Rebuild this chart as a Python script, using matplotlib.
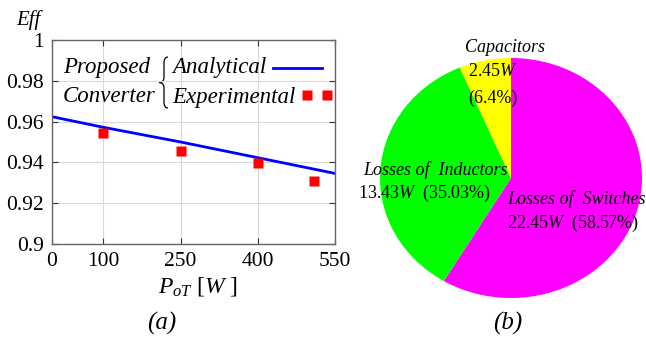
import numpy as np
import matplotlib
matplotlib.use("Agg")
import matplotlib.pyplot as plt
from matplotlib.path import Path
from matplotlib.patches import PathPatch

plt.rcParams['font.family'] = ['Liberation Serif', 'DejaVu Serif']
plt.rcParams['mathtext.fontset'] = 'custom'
plt.rcParams['mathtext.rm'] = 'Liberation Serif'
plt.rcParams['mathtext.it'] = 'Liberation Serif:italic'

# efficiency curve (a)
p_analytical = [0, 100, 250, 400, 550]
eff_analytical = [0.9624, 0.9572, 0.9500, 0.9423, 0.9346]
p_experimental = [100, 250, 400, 510]
eff_experimental = [0.9546, 0.9454, 0.9399, 0.9310]
x_ticks = [0, 100, 250, 400, 550]
y_ticks = [0.9, 0.92, 0.94, 0.96, 0.98, 1.0]
y_ticklabels = ['0.9', '0.92', '0.94', '0.96', '0.98', '1']

# loss breakdown (b)
loss_names = ['Switches', 'Inductors', 'Capacitors']
loss_watts = [22.45, 13.43, 2.45]
loss_pct = [58.57, 35.03, 6.4]
loss_colors = ['#ff00ff', '#00ff00', '#ffff00']

fig = plt.figure(figsize=(6.46, 3.43), dpi=100)

W, H = 646, 343
AW, AH = 283, 204
ax = fig.add_axes([52 / W, (H - 244) / H, AW / W, AH / H])
ax.plot(p_analytical, eff_analytical, color='#0000ff', lw=2)
ax.plot(p_experimental, eff_experimental, 's', color='#ff0000', ms=7, mec='none')
ax.set_xlim(0, 550)
ax.set_ylim(0.9, 1.0)
ax.set_xticks(x_ticks)
ax.set_yticks(y_ticks)
ax.set_yticklabels(y_ticklabels)
ax.grid(True, color='#d8d8d8', lw=0.8)
ax.tick_params(direction='in', top=True, right=True, labelsize=15.5, length=4,
               color='#333333', pad=6)
for s in ax.spines.values():
    s.set_color('#666666')
    s.set_linewidth(1.0)

# legend drawn by hand like the original
def px(x, y):
    return (x / AW, 1 - y / AH)

tkw = dict(fontsize=16.5, style='italic', transform=ax.transAxes, va='center')
ax.text(*px(11, 27), 'Proposed', **tkw)
ax.text(*px(11, 57), 'Converter', **tkw)
ax.text(*px(120, 27), 'Analytical', **tkw)
ax.text(*px(120, 57), 'Experimental', **tkw)

# thin curly brace
verts = [px(116, 17), px(112, 17), px(112, 23), px(112, 37), px(112, 42.5), px(107, 42.5),
         px(112, 42.5), px(112, 48), px(112, 62), px(112, 68), px(116, 68)]
codes = [Path.MOVETO, Path.CURVE3, Path.CURVE3, Path.LINETO, Path.CURVE3, Path.CURVE3,
         Path.CURVE3, Path.CURVE3, Path.LINETO, Path.CURVE3, Path.CURVE3]
ax.add_patch(PathPatch(Path(verts, codes), fc='none', ec='black', lw=0.9,
                       transform=ax.transAxes, clip_on=False))

ax.plot([px(221, 0)[0], px(270, 0)[0]], [px(0, 28)[1]] * 2, color='#0000ff', lw=2,
        transform=ax.transAxes, clip_on=False)
ax.plot([px(255, 0)[0], px(275, 0)[0]], [px(0, 55)[1]] * 2, 's', color='#ff0000',
        ms=7, mec='none', transform=ax.transAxes, clip_on=False)

fig.text(28 / W, 1 - 20 / H, 'Eff', fontsize=15, style='italic', ha='center', va='center')
fig.text(198 / W, 1 - 286 / H, '$P_{oT}$ [$W$ ]', fontsize=17, ha='center', va='center')
fig.text(162 / W, 1 - 323 / H, '(a)', fontsize=18, style='italic', ha='center', va='center')
fig.text(508 / W, 1 - 323 / H, '(b)', fontsize=18, style='italic', ha='center', va='center')

# pie
pax = fig.add_axes([380 / W, (H - 298) / H, 262 / W, 240 / H])
pax.pie(loss_watts, colors=loss_colors, startangle=90, counterclock=False,
        wedgeprops=dict(linewidth=0))
pax.set_aspect('auto')
pax.set_xlim(-1, 1)
pax.set_ylim(-1, 1)
pax.axis('off')

lkw = dict(fontsize=13, va='center')
fig.text(505 / W, 1 - 47 / H, 'Capacitors', style='italic', ha='center', **lkw)
fig.text(468 / W, 1 - 72 / H, '%.2f$W$' % loss_watts[2], ha='left', **lkw)
fig.text(468 / W, 1 - 98 / H, '(%.1f%%)' % loss_pct[2], ha='left', **lkw)
fig.text(435 / W, 1 - 170 / H, 'Losses of  ' + loss_names[1], style='italic', ha='center', **lkw)
fig.text(425 / W, 1 - 193 / H, '%.2f$W$  (%.2f%%)' % (loss_watts[1], loss_pct[1]), ha='center', **lkw)
fig.text(507 / W, 1 - 199 / H, 'Losses of  ' + loss_names[0], style='italic', ha='left', **lkw)
fig.text(507 / W, 1 - 223 / H, '%.2f$W$  (%.2f%%)' % (loss_watts[0], loss_pct[0]), ha='left', **lkw)

fig.savefig('out.png', dpi=100)
